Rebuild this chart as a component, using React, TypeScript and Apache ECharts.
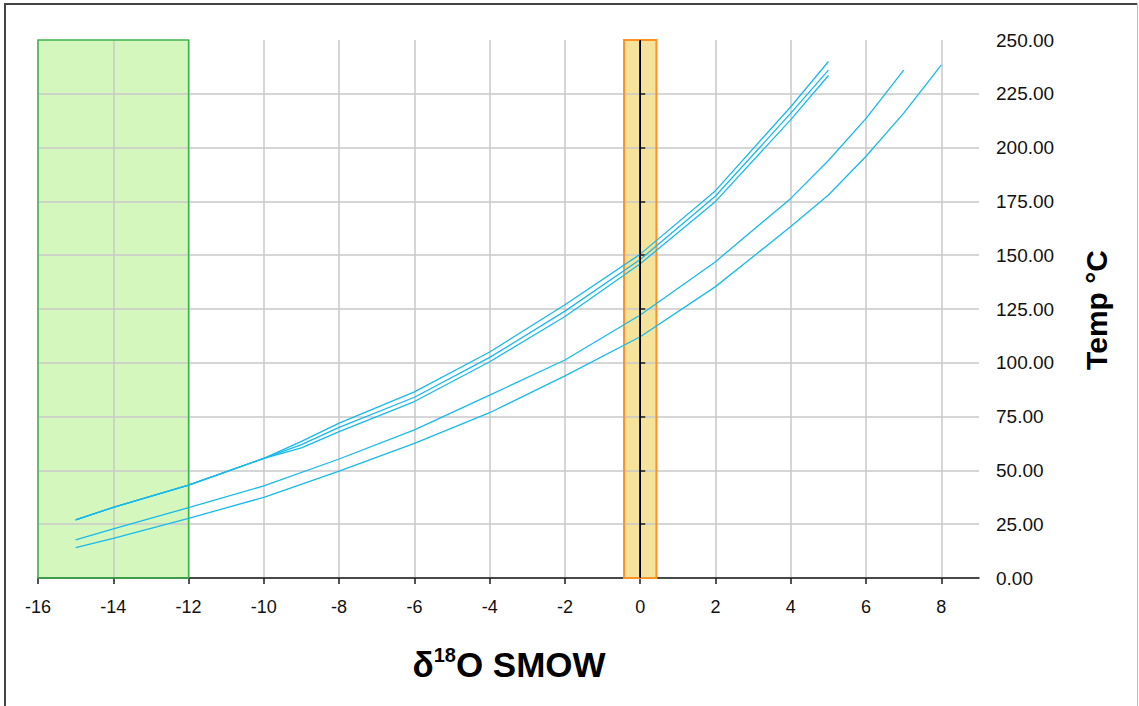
import React, { useEffect, useRef } from "react";
import * as echarts from "echarts";

// ---- data ----
const xTickValues = [-16, -14, -12, -10, -8, -6, -4, -2, 0, 2, 4, 6, 8];
const upperX = [-15, -14, -12, -10, -9, -8, -6, -4, -2, 0, 2, 4, 5];
const curveA = [27, 32.8, 43.2, 55.6, 63.5, 72, 86.5, 105, 127, 150.5, 180, 219, 240];
const curveB = [27, 32.8, 43.2, 55.6, 62, 70, 84, 102.5, 124, 148, 177.5, 216, 236];
const curveC = [27, 32.8, 43.2, 55.6, 60.5, 68, 82, 100.5, 121.5, 146, 175, 213, 233.5];
const curveDX = [-15, -14, -12, -10, -8, -6, -4, -2, 0, 2, 4, 5, 6, 7];
const curveD = [17.7, 22.8, 32.7, 42.8, 55.3, 68.8, 85, 101.3, 122.2, 147, 176.4, 194, 213.6, 236];
const curveEX = [-15, -14, -12, -10, -8, -6, -4, -2, 0, 2, 4, 5, 6, 7, 8];
const curveE = [14.1, 18.4, 27.7, 37.5, 49.7, 62.6, 76.8, 93.9, 112.1, 135.4, 163.3, 178, 196, 216, 238.4];
const greenBand = [-16, -12];
const orangeBand = [-0.43, 0.43];
const refLineX = 0;
const yMin = 0;
const yMax = 250;

const FONT = '"Liberation Sans", Arial, sans-serif';
const LINE_COLOR = "#18b9ec";

function pairs(xs: number[], ys: number[]) {
  return xs.map((x, i) => [x, ys[i]]);
}

const bandData = [
  [greenBand[0], greenBand[1], 0],
  [orangeBand[0], orangeBand[1], 1],
];

export default function App() {
  const ref = useRef<HTMLDivElement>(null);
  useEffect(() => {
    if (!ref.current) return;
    const chart = echarts.init(ref.current, null, { renderer: "svg" });
    const lineSeries = (name: string, data: number[][]) => ({
      name,
      type: "line",
      data,
      showSymbol: false,
      symbol: "none",
      lineStyle: { color: LINE_COLOR, width: 1.3 },
      z: 3,
    });
    const bandSeries = (outline: boolean) => ({
      type: "custom",
      z: outline ? 2 : -1,
      silent: true,
      data: bandData,
      renderItem: (params: any, api: any) => {
        const x0 = api.value(0);
        const x1 = api.value(1);
        const kind = api.value(2);
        const p0 = api.coord([x0, yMax]);
        const p1 = api.coord([x1, yMin]);
        const shape = { x: p0[0], y: p0[1], width: p1[0] - p0[0], height: p1[1] - p0[1] };
        if (!outline) {
          return { type: "rect", shape, style: { fill: kind === 0 ? "#d4f7bd" : "#f5e39c" } };
        }
        return {
          type: "rect",
          shape,
          style:
            kind === 0
              ? { fill: "none", stroke: "#3db54c", lineWidth: 1.5 }
              : { fill: "none", stroke: "#ff9224", lineWidth: 2 },
        };
      },
    });
    const option: any = {
      animation: false,
      backgroundColor: "#ffffff",
      grid: { left: 38, right: 160, top: 40, bottom: 128, containLabel: false },
      xAxis: {
        type: "value",
        min: -16,
        max: 9,
        interval: 2,
        axisLine: { show: true, onZero: false, lineStyle: { color: "#1a1a1a", width: 1.5 } },
        axisTick: { show: true, length: 6, customValues: xTickValues, lineStyle: { color: "#1a1a1a", width: 1.5 } },
        axisLabel: {
          customValues: xTickValues,
          margin: 20,
          color: "#111",
          fontSize: 18,
          fontFamily: FONT,
        },
        splitLine: { show: true, lineStyle: { color: "#c8c8c8", width: 1.5 } },
      },
      yAxis: {
        type: "value",
        position: "right",
        min: yMin,
        max: yMax,
        interval: 25,
        axisLine: { show: true, lineStyle: { color: "#1a1a1a", width: 1.5 } },
        axisTick: { show: true, inside: false, length: 5, lineStyle: { color: "#1a1a1a", width: 1.5 } },
        axisLabel: {
          margin: 17,
          color: "#111",
          fontSize: 19,
          fontFamily: FONT,
          formatter: (v: number) => v.toFixed(2),
        },
        splitLine: { show: true, showMaxLine: false, lineStyle: { color: "#c8c8c8", width: 1.5 } },
      },
      series: [
        bandSeries(false),
        bandSeries(true),
        lineSeries("A", pairs(upperX, curveA)),
        lineSeries("B", pairs(upperX, curveB)),
        lineSeries("C", pairs(upperX, curveC)),
        lineSeries("D", pairs(curveDX, curveD)),
        lineSeries("E", pairs(curveEX, curveE)),
        {
          type: "line",
          data: [
            [refLineX, yMin],
            [refLineX, yMax],
          ],
          symbol: "none",
          lineStyle: { color: "#000000", width: 1.5 },
          z: 4,
        },
      ],
      graphic: [
        {
          type: "line",
          shape: { x1: 5, y1: 4, x2: 1137, y2: 4 },
          style: { stroke: "#444", lineWidth: 2 },
        },
        {
          type: "line",
          shape: { x1: 5, y1: 3, x2: 5, y2: 706 },
          style: { stroke: "#444", lineWidth: 2 },
        },
        {
          type: "line",
          shape: { x1: 1137.5, y1: 3, x2: 1137.5, y2: 706 },
          style: { stroke: "#bbb", lineWidth: 1 },
        },
        {
          type: "text",
          x: 1096,
          y: 310,
          rotation: Math.PI / 2,
          style: {
            text: "Temp °C",
            font: `bold 30px ${FONT}`,
            fill: "#000",
            textAlign: "center",
            textVerticalAlign: "middle",
          },
        },
        {
          type: "text",
          x: 509,
          y: 662,
          style: {
            text: "{d|δ}{s|18}{d|O SMOW}",
            textAlign: "center",
            textVerticalAlign: "middle",
            fill: "#000",
            rich: {
              d: { font: `bold 35px ${FONT}`, fill: "#000", lineHeight: 40, verticalAlign: "bottom" },
              s: { font: `bold 20px ${FONT}`, fill: "#000", lineHeight: 40, verticalAlign: "top", padding: [3, 0, 0, 0] },
            },
          },
        },
      ],
    };
    chart.setOption(option);
    return () => chart.dispose();
  }, []);
  return (
    <div
      ref={ref}
      style={{ position: "fixed", left: 0, top: 0, width: 1139, height: 706, background: "#fff" }}
    />
  );
}
